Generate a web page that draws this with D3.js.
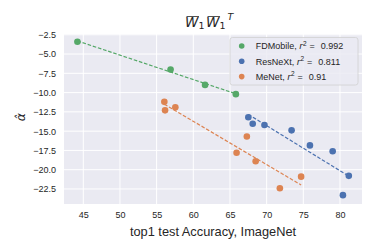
<!DOCTYPE html>
<html>
<head>
<meta charset="utf-8">
<script src="https://cdn.jsdelivr.net/npm/d3@7"></script>
<style>
  body { margin: 0; background: #ffffff; }
  svg { display: block; font-family: "Liberation Sans", Arial, sans-serif; }
</style>
</head>
<body>
<svg id="chart" width="374" height="249"></svg>
<script>
//-----------------------------
// data
//-----------------------------
var fdX = [44.2, 56.9, 61.6, 65.8];
var fdY = [-3.4, -7.0, -9.0, -10.2];

var rxX = [67.5, 68.1, 69.7, 73.4, 75.9, 79.0, 81.2, 80.4];
var rxY = [-13.2, -14.05, -14.2, -14.9, -16.85, -17.6, -20.8, -23.3];

var mnX = [56.05, 56.15, 57.55, 67.3, 65.9, 68.5, 74.7, 71.8];
var mnY = [-11.2, -12.3, -11.9, -15.7, -17.8, -18.9, -20.9, -22.4];

var seriesNames = ["FDMobile", "ResNeXt", "MeNet"];
var r2Labels = ["0.992", "0.811", "0.91"];
var xTicks = [45, 50, 55, 60, 65, 70, 75, 80];
var yTicks = [-2.5, -5, -7.5, -10, -12.5, -15, -17.5, -20, -22.5];

var series = [
  {name: seriesNames[0], r2: r2Labels[0], x: fdX, y: fdY, color: "#55a868"},
  {name: seriesNames[1], r2: r2Labels[1], x: rxX, y: rxY, color: "#4c72b0"},
  {name: seriesNames[2], r2: r2Labels[2], x: mnX, y: mnY, color: "#dd8452"}
];

//-----------------------------
// layout
//-----------------------------
var svg = d3.select("#chart");
var plot = {left: 64, right: 362, top: 34, bottom: 204};

var x = d3.scaleLinear().domain([42.37, 83.0]).range([plot.left, plot.right]);
var y = d3.scaleLinear().domain([-24.45, -2.4]).range([plot.bottom, plot.top]);

//background
svg.append("rect")
  .attr("x", plot.left).attr("y", plot.top)
  .attr("width", plot.right - plot.left).attr("height", plot.bottom - plot.top)
  .attr("fill", "#eaeaf2");

//grid
svg.append("g").selectAll("line").data(xTicks).join("line")
  .attr("x1", d => x(d)).attr("x2", d => x(d))
  .attr("y1", plot.top).attr("y2", plot.bottom)
  .attr("stroke", "#ffffff").attr("stroke-width", 1);
svg.append("g").selectAll("line").data(yTicks).join("line")
  .attr("y1", d => y(d)).attr("y2", d => y(d))
  .attr("x1", plot.left).attr("x2", plot.right)
  .attr("stroke", "#ffffff").attr("stroke-width", 1);

//axes (no tick marks, seaborn darkgrid)
var xAxis = svg.append("g")
  .attr("transform", "translate(0," + plot.bottom + ")")
  .call(d3.axisBottom(x).tickValues(xTicks).tickSize(0).tickPadding(8).tickFormat(d3.format("d")));
var yAxis = svg.append("g")
  .attr("transform", "translate(" + plot.left + ",0)")
  .call(d3.axisLeft(y).tickValues(yTicks).tickSize(0).tickPadding(8).tickFormat(d3.format(".1f")));
[xAxis, yAxis].forEach(function(a) {
  a.select(".domain").remove();
  a.selectAll("text").attr("font-size", 9).attr("fill", "#262626")
    .attr("font-family", "'Liberation Sans', Arial, sans-serif");
});

//least squares fit line for each series
function fit(xs, ys) {
  var mx = d3.mean(xs), my = d3.mean(ys);
  var sxy = d3.sum(xs, (v, i) => (v - mx) * (ys[i] - my));
  var sxx = d3.sum(xs, v => (v - mx) * (v - mx));
  var b = sxy / sxx;
  return {b: b, a: my - b * mx};
}

series.forEach(function(s) {
  var f = fit(s.x, s.y);
  var ext = d3.extent(s.x);
  svg.append("line")
    .attr("x1", x(ext[0])).attr("y1", y(f.a + f.b * ext[0]))
    .attr("x2", x(ext[1])).attr("y2", y(f.a + f.b * ext[1]))
    .attr("stroke", s.color).attr("stroke-width", 1.2)
    .attr("stroke-dasharray", "3.6,1.8");
});

series.forEach(function(s) {
  svg.append("g").selectAll("circle").data(s.x).join("circle")
    .attr("cx", d => x(d))
    .attr("cy", (d, i) => y(s.y[i]))
    .attr("r", 3.3)
    .attr("fill", s.color);
});

//legend
var lg = svg.append("g");
lg.append("rect")
  .attr("x", 230).attr("y", 37.5).attr("width", 128).attr("height", 47.5)
  .attr("rx", 2.5)
  .attr("fill", "#eaeaf2").attr("fill-opacity", 0.8)
  .attr("stroke", "#d0d0d0").attr("stroke-width", 0.8);

series.forEach(function(s, i) {
  var yy = 46 + i * 15.3;
  lg.append("circle").attr("cx", 241.7).attr("cy", yy).attr("r", 2.8).attr("fill", s.color);
  var t = lg.append("text")
    .attr("x", 255.7).attr("y", yy + 3.2)
    .attr("font-size", 9).attr("fill", "#262626");
  t.append("tspan").text(s.name + ", ");
  t.append("tspan").attr("font-style", "italic").attr("font-family", "'DejaVu Sans', sans-serif").text("r");
  t.append("tspan").attr("font-size", 6.5).attr("dy", -3.5).text("2");
  t.append("tspan").attr("dy", 3.5).attr("dx", 3).text("=");
  t.append("tspan").attr("dx", 6).text(s.r2);
});

//title: W-bar_1 W-bar_1^T
var title = svg.append("g").attr("font-family", "'DejaVu Sans', sans-serif").attr("fill", "#262626");
var tx = 185, ty = 27;
function addW() {
  var w = title.append("text").attr("x", tx).attr("y", ty)
    .attr("font-size", 13.5).attr("font-style", "italic").text("W");
  var bb = w.node().getBBox();
  title.append("line")
    .attr("x1", bb.x + 1.5).attr("x2", bb.x + bb.width)
    .attr("y1", 16.5).attr("y2", 16.5)
    .attr("stroke", "#262626").attr("stroke-width", 0.8);
  tx += bb.width - 0.5;
  var one = title.append("text").attr("x", tx).attr("y", ty + 2.3)
    .attr("font-size", 9.5).text("1");
  tx += one.node().getBBox().width + 1.5;
}
addW();
addW();
title.append("text").attr("x", tx + 0.5).attr("y", 19.5).attr("font-size", 9.5)
  .attr("font-style", "italic").text("T");

//axis labels
svg.append("text")
  .attr("x", (plot.left + plot.right) / 2).attr("y", 236)
  .attr("text-anchor", "middle").attr("font-size", 12.8).attr("fill", "#262626")
  .text("top1 test Accuracy, ImageNet");

svg.append("text")
  .attr("transform", "translate(25,117) rotate(-90)")
  .attr("text-anchor", "middle")
  .attr("font-family", "'DejaVu Sans', sans-serif")
  .attr("font-size", 12.5).attr("font-style", "italic").attr("fill", "#262626")
  .text("\u03B1\u0302");
</script>
</body>
</html>
